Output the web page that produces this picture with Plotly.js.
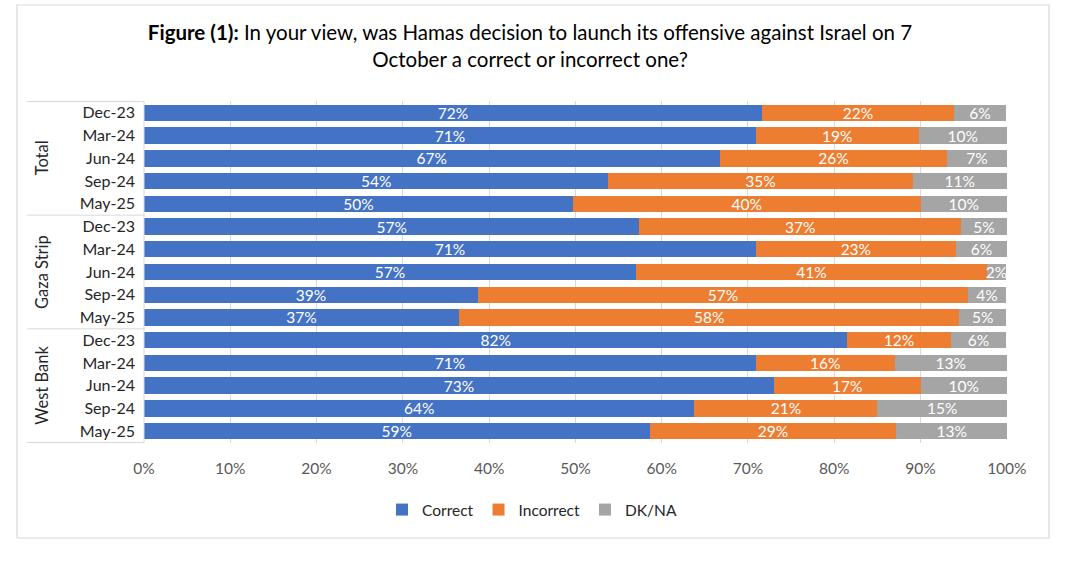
<!DOCTYPE html>
<html>
<head>
<meta charset="utf-8">
<script src="https://cdn.plot.ly/plotly-3.0.1.min.js"></script>
<style>html,body{margin:0;padding:0;background:#fff;}#chart{width:1080px;height:576px;}</style>
</head>
<body>
<div id="chart"></div>
<script>
// ---- data ----
const groups = ["Total", "Gaza Strip", "West Bank"];
const periods = ["Dec-23", "Mar-24", "Jun-24", "Sep-24", "May-25"];
const seriesNames = ["Correct", "Incorrect", "DK/NA"];
// values per row: Total (5), Gaza Strip (5), West Bank (5)
const correct   = [71.6, 70.9, 66.7, 53.8, 49.7,  57.4, 70.9, 57.0, 38.7, 36.5,  81.5, 70.9, 73.0, 63.8, 58.6];
const incorrect = [22.3, 18.9, 26.4, 35.3, 40.3,  37.3, 23.2, 40.7, 56.8, 58.0,  12.0, 16.1, 17.0, 21.2, 28.6];
const dkna      = [ 6.0, 10.2,  6.9, 10.9, 10.0,   5.3,  5.9,  2.2,  4.4,  5.4,   6.4, 13.0, 10.0, 15.0, 12.8];
const xTicks = [0, 10, 20, 30, 40, 50, 60, 70, 80, 90, 100];
const colors = ["#4472C4", "#ED7D31", "#A5A5A5"];

// ---- build ----
const rowKeys = [], rowLabels = [];
groups.forEach(g => periods.forEach(p => { rowKeys.push(g + " | " + p); rowLabels.push(p); }));

const FONT = "Lato, 'Open Sans', sans-serif";
const traces = [correct, incorrect, dkna].map((vals, i) => ({
  type: "bar",
  orientation: "h",
  name: seriesNames[i],
  x: vals,
  y: rowKeys,
  marker: {color: colors[i]},
  text: vals.map(v => Math.round(v) + "%"),
  textposition: "inside",
  insidetextanchor: "middle",
  textangle: 0,
  constraintext: "none",
  cliponaxis: false,
  textfont: {color: "#ffffff", size: 15.5, family: FONT},
  hoverinfo: "skip"
}));

// geometry (pixels -> paper)
const L = 144, R = 1007, T = 101, B = 443;
const W = R - L, H = B - T;
const px = x => (x - L) / W;
const py = y => (B - y) / H;

const shapes = [
  // outer frame
  {type: "rect", xref: "paper", yref: "paper", x0: px(17), x1: px(1049), y0: py(538), y1: py(5),
   line: {color: "#d9d9d9", width: 1.2}, layer: "below"},
  // vertical axis line
  {type: "line", xref: "paper", yref: "paper", x0: 0, x1: 0, y0: 0, y1: 1, line: {color: "#d9d9d9", width: 1}}
];
// group separators
for (let k = 0; k <= groups.length; k++) {
  const pos = k * periods.length - 0.5;
  shapes.push({type: "line", xref: "paper", yref: "y", x0: px(27), x1: 0, y0: pos, y1: pos,
               line: {color: "#d9d9d9", width: 1}});
}
const annotations = groups.map((g, k) => ({
  xref: "paper", yref: "y", x: px(42), y: k * periods.length + (periods.length - 1) / 2,
  text: g, showarrow: false, textangle: -90, xanchor: "center", yanchor: "middle",
  font: {size: 16.5, color: "#262626", family: FONT}
}));

const layout = {
  width: 1080, height: 576,
  margin: {l: L, r: 1080 - R, t: T, b: 576 - B},
  paper_bgcolor: "#ffffff", plot_bgcolor: "#ffffff",
  barmode: "stack",
  bargap: 0.28,
  font: {family: FONT},
  title: {
    text: "<b>Figure (1):</b> In your view, was Hamas decision to launch its offensive against Israel on 7<br>October a correct or incorrect one?",
    xref: "container", x: 530 / 1080, xanchor: "center",
    yref: "container", y: 1 - 40 / 576, yanchor: "middle",
    font: {size: 20.5, color: "#000000", family: FONT}
  },
  xaxis: {
    range: [0, 100.02], tickvals: xTicks, ticktext: xTicks.map(v => v + "%"),
    showgrid: true, gridcolor: "#d9d9d9", gridwidth: 1, zeroline: false,
    showline: false, ticks: "", ticklabelstandoff: 14,
    tickfont: {size: 15.5, color: "#595959", family: FONT}, fixedrange: true
  },
  yaxis: {
    type: "category", categoryorder: "array", categoryarray: rowKeys,
    tickvals: rowKeys, ticktext: rowLabels, autorange: "reversed",
    showgrid: false, zeroline: false, showline: false, ticks: "",
    ticklabelstandoff: 8,
    tickfont: {size: 16, color: "#262626", family: FONT}, fixedrange: true
  },
  legend: {
    orientation: "h", x: px(532), xanchor: "center", y: py(510), yanchor: "middle",
    font: {size: 15.5, color: "#262626", family: FONT}, traceorder: "normal",
    itemwidth: 30, bgcolor: "rgba(0,0,0,0)"
  },
  shapes: shapes,
  annotations: annotations,
  showlegend: true
};

Plotly.newPlot("chart", traces, layout, {displayModeBar: false, staticPlot: true});
</script>
</body>
</html>
